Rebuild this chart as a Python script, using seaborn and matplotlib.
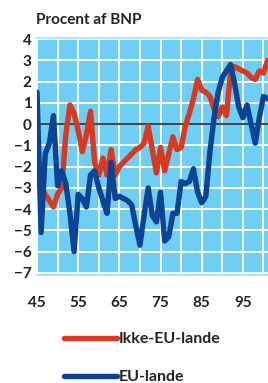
import matplotlib
matplotlib.use("Agg")
import matplotlib.pyplot as plt
import seaborn as sns
import pandas as pd

# annual values, year given as two digits (45 = 1945)
years_eu = list(range(45, 102))
eu_lande = [1.5, -5.1, -1.4, -0.9, 0.4, -2.9, -2.2, -2.8, -4.2, -6.0,
            -3.3, -3.5, -3.9, -2.4, -2.2, -3.0, -3.6, -4.2, -1.8, -3.5,
            -3.4, -3.5, -3.6, -3.8, -4.8, -5.7, -4.3, -3.0, -4.3, -4.6,
            -3.2, -5.5, -5.3, -4.2, -4.2, -2.7, -2.8, -2.7, -2.1, -3.2,
            -3.7, -3.4, -1.3, 0.3, 1.5, 2.2, 2.5, 2.8, 1.9, 0.8,
            0.3, 0.9, 0.0, -0.9, 0.3, 1.3, 1.2]

years_ikke = list(range(46, 102))
ikke_eu_lande = [-2.9, -3.3, -3.6, -3.9, -3.3, -3.0, -0.5, 0.9, 0.5, -0.3,
                 -1.3, -0.5, 0.6, -1.8, -2.4, -1.6, -2.4, -1.2, -2.4, -2.0,
                 -1.8, -1.6, -1.4, -1.2, -1.1, -0.9, -0.1, -1.2, -2.3, -1.1,
                 -2.2, -1.4, -0.6, -1.2, -1.1, -0.1, 0.5, 1.2, 2.1, 1.6,
                 1.5, 1.3, 0.7, 0.35, 0.8, 0.4, 2.4, 2.7, 2.6, 2.5,
                 2.4, 2.2, 2.1, 2.5, 2.4, 3.0]

series_names = ["Ikke-EU-lande", "EU-lande"]
x_ticks = [45, 55, 65, 75, 85, 95]
y_ticks = [4, 3, 2, 1, 0, -1, -2, -3, -4, -5, -6, -7]
title = "Procent af BNP"

df = pd.concat([
    pd.DataFrame({"aar": years_ikke, "pct": ikke_eu_lande, "serie": series_names[0]}),
    pd.DataFrame({"aar": years_eu, "pct": eu_lande, "serie": series_names[1]}),
])

sns.set_style("white")
plt.rcParams["font.family"] = ["Lato", "DejaVu Sans"]

palette = {"Ikke-EU-lande": "#d93a1f", "EU-lande": "#0b4495"}

fig = plt.figure(figsize=(2.68, 3.83), dpi=100)
ax = fig.add_axes([37 / 268, 1 - 275 / 383, 231 / 268, 237 / 383])
ax.set_facecolor("#6dcff6")

sns.lineplot(data=df, x="aar", y="pct", hue="serie", palette=palette,
             hue_order=series_names, linewidth=3.9, ax=ax)

ax.set_xlim(45, 101.1)
ax.set_ylim(-7.1, 4.05)
ax.set_xticks(range(45, 101, 5), minor=True)
ax.set_xticks(x_ticks)
ax.set_yticks(y_ticks)
ax.grid(True, which="both", color="white", linewidth=1.4)
ax.set_axisbelow(True)
ax.axhline(0, color="#333333", linewidth=1.3, zorder=1.5)
ax.tick_params(length=0, which="both", labelsize=11, pad=4)
for lbl in ax.get_xticklabels() + ax.get_yticklabels():
    lbl.set_fontweight("bold")
    lbl.set_color("#222222")
ax.tick_params(axis="x", pad=15)
ax.set_xlabel("")
ax.set_ylabel("")
for side in ["left", "right"]:
    ax.spines[side].set_visible(False)
for side in ["top", "bottom"]:
    ax.spines[side].set_color("#a9e2fa")
    ax.spines[side].set_linewidth(1.2)

fig.text(36 / 268, 1 - 20 / 383, title, fontsize=11, fontweight="bold",
         color="#222222", va="center", ha="left")

ax.legend(handles=ax.get_legend_handles_labels()[0],
          labels=series_names, loc="upper left",
          bbox_to_anchor=(64 / 268, 1 - 332 / 383), bbox_transform=fig.transFigure,
          frameon=False, handlelength=3.3, handletextpad=0.15, labelspacing=1.5,
          prop={"size": 11.5, "weight": "bold"}, borderaxespad=0, borderpad=0)
for t in ax.get_legend().get_texts():
    t.set_color("#222222")

fig.savefig("out.png", dpi=100)
